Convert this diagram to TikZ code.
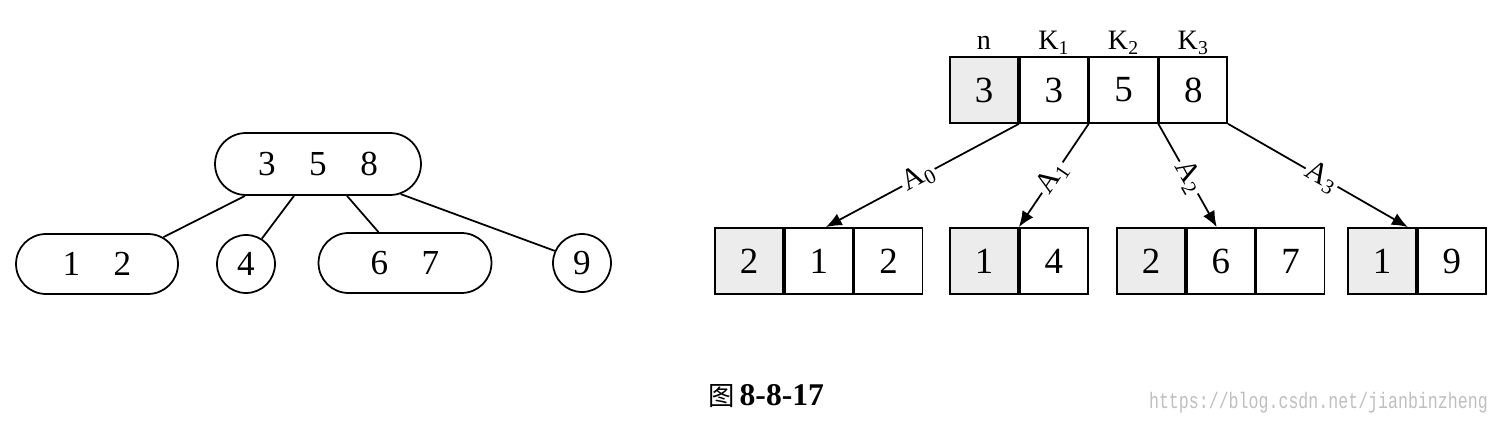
\documentclass[tikz,border=0pt]{standalone}
\usepackage{fontspec}
\setmainfont{Liberation Serif}
\setmonofont{Liberation Mono}
\newfontfamily\cjk{Noto Sans CJK SC}
\usetikzlibrary{positioning,shapes.misc,arrows.meta}

\tikzset{
    cell/.style={draw, line width=1pt, minimum width=1.36cm, minimum height=1.32cm, inner sep=0pt, font=\fontsize{21}{24}\selectfont},
    ncell/.style={cell, fill=gray!15},
    pill/.style={draw, line width=1pt, rounded rectangle, minimum height=1.2cm, inner sep=0pt, font=\fontsize{20}{24}\selectfont},
    ring/.style={draw, line width=1pt, circle, minimum size=1.16cm, inner sep=0pt, font=\fontsize{20}{24}\selectfont},
    link/.style={line width=1pt},
    ptr/.style={line width=1pt, -{Latex[length=0.32cm, width=0.26cm]}},
    tag/.style={font=\fontsize{16}{19}\selectfont, text depth=0.3ex, inner sep=2pt},
    lab/.style={font=\fontsize{17}{20}\selectfont, fill=white, inner sep=1pt, sloped, pos=0.52},
}

\begin{document}
\begin{tikzpicture}[x=0.02cm, y=-0.02cm]
        \useasboundingbox (0,0) rectangle (1506,422);
        \node[pill, minimum width=4.12cm, minimum height=1.24cm] (t) at (318,164) {3\hspace{0.67cm}5\hspace{0.67cm}8};
        \node[pill, minimum width=3.24cm] (l1) at (97,264) {1\hspace{0.67cm}2};
        \node[ring] (c4) at (246,264) {4};
        \node[pill, minimum width=3.46cm] (l3) at (405,263) {6\hspace{0.67cm}7};
        \node[ring] (c9) at (582,263) {9};
        \draw[link] ([xshift=-1.46cm]t.south) -- (l1.22);
        \draw[link] ([xshift=-0.48cm]t.south) -- (c4.58);
        \draw[link] ([xshift=0.58cm]t.south) -- ([xshift=-0.53cm]l3.north);
        \draw[link] (t.-20) -- (c9.156);

        \node[ncell] (r0) at (984,90) {3};
        \foreach \v/\i/\j in {3/1/0, 5/2/1, 8/3/2}
            \node[cell, right=0pt of r\j] (r\i) {\v};
        \foreach \t/\i in {n/0, K\textsubscript{1}/1, K\textsubscript{2}/2, K\textsubscript{3}/3}
            \node[tag, above=0pt of r\i] (k\i) {\t};

        \node[ncell] (p0) at (749,261) {2};
        \node[cell, right=0pt of p0] (p1) {1};
        \node[cell, right=0pt of p1] (p2) {2};
        \node[ncell] (q0) at (984,261) {1};
        \node[cell, right=0pt of q0] (q1) {4};
        \node[ncell] (s0) at (1151,261) {2};
        \node[cell, right=0pt of s0] (s1) {6};
        \node[cell, right=0pt of s1] (s2) {7};
        \node[ncell] (u0) at (1382,261) {1};
        \node[cell, right=0pt of u0] (u1) {9};

        \draw[ptr] (r0.south east) -- node[lab] (a0) {A\textsubscript{0}} ([xshift=0.14cm]p1.north);
        \draw[ptr] (r1.south east) -- node[lab] (a1) {A\textsubscript{1}} (q0.north east);
        \draw[ptr] (r2.south east) -- node[lab] (a2) {A\textsubscript{2}} ([xshift=-0.08cm]s1.north);
        \draw[ptr] (r3.south east) -- node[lab] (a3) {A\textsubscript{3}} ([xshift=-0.18cm]u0.north east);

        \node[font=\bfseries\fontsize{18}{21}\selectfont] (cap) at (766,396) {{\cjk\mdseries\fontsize{15}{17}\selectfont 图}\,8-8-17};
        \node[anchor=east, text=gray!50, font=\ttfamily\fontsize{9.45}{11}\selectfont] (mark) at (1494,403) {\scalebox{1}[1.35]{https://blog.csdn.net/jianbinzheng}};
\end{tikzpicture}
\end{document}
